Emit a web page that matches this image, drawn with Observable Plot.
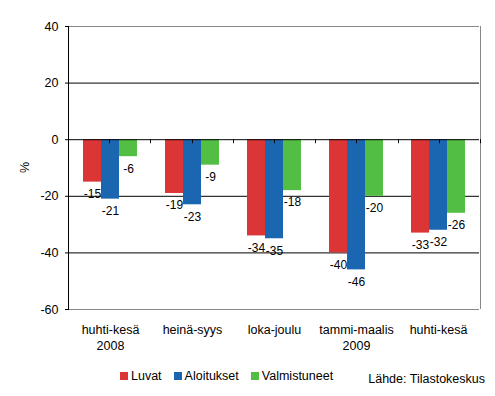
<!DOCTYPE html>
<html><head><meta charset="utf-8">
<script src="https://cdn.jsdelivr.net/npm/d3@7"></script>
<script src="https://cdn.jsdelivr.net/npm/@observablehq/plot@0.6"></script>
<style>
body{margin:0;background:#fff;font-family:"Liberation Sans",Arial,sans-serif;color:#000;}
#wrap{position:relative;width:495px;height:396px;overflow:hidden;}
#legend{position:absolute;left:120px;top:369px;display:flex;align-items:center;font-size:12.5px;white-space:nowrap;}
#legend .it{display:flex;align-items:center;margin-right:12px;}
#legend .sw{width:8px;height:8px;margin-right:3px;}
#source{position:absolute;right:10px;top:372px;font-size:12.5px;white-space:nowrap;}
</style></head><body><div id="wrap"></div>
<script>
const categories = ["huhti-kesä\n2008", "heinä-syys", "loka-joulu", "tammi-maalis\n2009", "huhti-kesä"];
const series = ["Luvat", "Aloitukset", "Valmistuneet"];
const luvat = [-15, -19, -34, -40, -33];
const aloitukset = [-21, -23, -35, -46, -32];
const valmistuneet = [-6, -9, -18, -20, -26];
const colors = ["#DB3535", "#1A66B0", "#52BF44"];
const yTicks = [-60, -40, -20, 0, 20, 40];
const gridLines = [20, -20, -40];
const yLabel = "%";
const sourceText = "Lähde: Tilastokeskus";

const seriesValues = [luvat, aloitukset, valmistuneet];
const data = [];
categories.forEach((c, i) => {
  series.forEach((s, j) => data.push({category: c, series: s, value: seriesValues[j][i]}));
});

const W = 495, H = 360, mL = 68, mR = 15, mT = 26, mB = 51;
const chart = Plot.plot({
  width: W, height: H,
  marginLeft: mL, marginRight: mR, marginTop: mT, marginBottom: mB,
  style: {fontFamily: '"Liberation Sans", Arial, sans-serif', fontSize: "12.5px", color: "#000", background: "#fff", overflow: "visible"},
  fx: {domain: categories, padding: 0, label: null, axis: null},
  x: {domain: series, padding: 0, paddingOuter: 0.7, axis: null},
  y: {domain: [-60, 40], label: null, axis: null},
  color: {domain: series, range: colors},
  marks: [
    Plot.ruleY([40, -60], {stroke: "#888"}),
    Plot.ruleY(gridLines, {stroke: "#000"}),
    Plot.barY(data, {fx: "category", x: "series", y: "value", fill: "series"}),
    Plot.ruleY([0], {stroke: "#000"}),
    Plot.text(data, {fx: "category", x: "series", y: "value", text: d => String(d.value), dy: 12, lineAnchor: "middle", fontSize: 12, fill: "#000"}),
    Plot.axisY({ticks: yTicks, tickFormat: d => String(d), tickSize: 4, tickPadding: 7, label: null, fontSize: 12.5}),
    Plot.axisFx({anchor: "bottom", domain: categories, tickSize: 0, tickPadding: 13, label: null, lineHeight: 1.3, fontSize: 12.5})
  ]
});
document.getElementById("wrap").appendChild(chart);

const svg = d3.select(chart.tagName.toLowerCase() === "svg" ? chart : chart.querySelector("svg"));
const ys = chart.scale("y");
const y0 = ys.apply(0), yTop = ys.apply(40), yBot = ys.apply(-60);
const fxBand = d3.scaleBand().domain(categories).range([mL, W - mR]).padding(0);
svg.append("line").attr("x1", W - mR + 0.5).attr("x2", W - mR + 0.5).attr("y1", yTop).attr("y2", yBot).attr("stroke", "#888");
svg.append("line").attr("x1", mL + 0.5).attr("x2", mL + 0.5).attr("y1", yTop).attr("y2", yBot).attr("stroke", "#000");
categories.forEach((c, i) => {
  const x0 = fxBand(c);
  [x0 + fxBand.bandwidth() / 2, x0 + fxBand.bandwidth()].forEach(x => {
    svg.append("line").attr("x1", Math.round(x) + 0.5).attr("x2", Math.round(x) + 0.5).attr("y1", y0).attr("y2", y0 + 4).attr("stroke", "#000");
  });
});
svg.append("text").attr("transform", `translate(26,${(yTop + yBot) / 2}) rotate(-90)`)
  .attr("text-anchor", "middle").attr("dominant-baseline", "middle")
  .attr("font-size", 12.5).attr("fill", "#000").text(yLabel);

const legend = d3.select("#wrap").append("div").attr("id", "legend");
series.forEach((s, i) => {
  const it = legend.append("div").attr("class", "it");
  it.append("div").attr("class", "sw").style("background", colors[i]);
  it.append("span").text(s);
});
d3.select("#wrap").append("div").attr("id", "source").text(sourceText);
</script></body></html>
